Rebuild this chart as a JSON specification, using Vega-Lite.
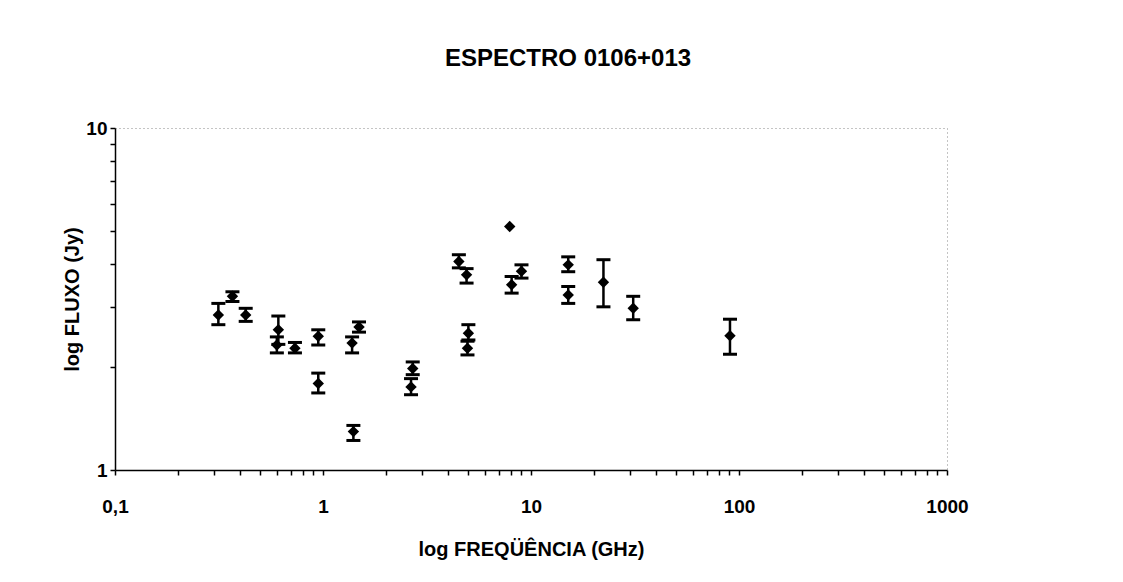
{
  "$schema": "https://vega.github.io/schema/vega-lite/v6.json",
  "width": 832,
  "height": 342,
  "autosize": {"type": "none"},
  "padding": {"left": 115, "top": 128, "right": 176, "bottom": 112},
  "background": "white",
  "title": {
    "text": "ESPECTRO 0106+013",
    "anchor": "middle",
    "frame": "group",
    "dx": 37,
    "offset": 48,
    "fontSize": 24,
    "font": "Liberation Sans, Arial, sans-serif",
    "fontWeight": "bold",
    "color": "black"
  },
  "data": {
    "values": [
      {"freq": 0.314, "flux": 2.84, "lo": 2.66, "hi": 3.07},
      {"freq": 0.367, "flux": 3.22, "lo": 3.11, "hi": 3.32},
      {"freq": 0.425, "flux": 2.84, "lo": 2.72, "hi": 2.97},
      {"freq": 0.61, "flux": 2.57, "lo": 2.33, "hi": 2.82},
      {"freq": 0.60, "flux": 2.32, "lo": 2.20, "hi": 2.45},
      {"freq": 0.733, "flux": 2.27, "lo": 2.20, "hi": 2.36},
      {"freq": 0.949, "flux": 2.46, "lo": 2.32, "hi": 2.57},
      {"freq": 0.949, "flux": 1.79, "lo": 1.68, "hi": 1.92},
      {"freq": 1.49, "flux": 2.62, "lo": 2.53, "hi": 2.71},
      {"freq": 1.38, "flux": 2.35, "lo": 2.20, "hi": 2.45},
      {"freq": 1.40, "flux": 1.295, "lo": 1.22, "hi": 1.35},
      {"freq": 2.7, "flux": 1.98, "lo": 1.90, "hi": 2.07},
      {"freq": 2.65, "flux": 1.75, "lo": 1.66, "hi": 1.85},
      {"freq": 4.5, "flux": 4.07, "lo": 3.90, "hi": 4.26},
      {"freq": 4.9, "flux": 3.72, "lo": 3.52, "hi": 3.88},
      {"freq": 5.0, "flux": 2.51, "lo": 2.40, "hi": 2.66},
      {"freq": 4.95, "flux": 2.27, "lo": 2.17, "hi": 2.38},
      {"freq": 7.9, "flux": 5.15, "lo": null, "hi": null},
      {"freq": 8.07, "flux": 3.48, "lo": 3.29, "hi": 3.68},
      {"freq": 9.0, "flux": 3.81, "lo": 3.64, "hi": 3.98},
      {"freq": 15.1, "flux": 3.98, "lo": 3.80, "hi": 4.20},
      {"freq": 15.1, "flux": 3.25, "lo": 3.07, "hi": 3.44},
      {"freq": 22.3, "flux": 3.54, "lo": 3.0, "hi": 4.12},
      {"freq": 31.0, "flux": 2.97, "lo": 2.75, "hi": 3.22},
      {"freq": 90.5, "flux": 2.47, "lo": 2.18, "hi": 2.76}
    ]
  },
  "config": {
    "view": {"stroke": "#888", "strokeDash": [1, 3], "strokeWidth": 1},
    "axis": {
      "grid": false,
      "domainColor": "black",
      "domainWidth": 1.5,
      "tickColor": "black",
      "tickWidth": 1.5,
      "tickSize": 5,
      "labelFont": "Liberation Sans, Arial, sans-serif",
      "labelFontSize": 19,
      "labelFontWeight": "bold",
      "labelColor": "black",
      "titleFont": "Liberation Sans, Arial, sans-serif",
      "titleFontSize": 20,
      "titleFontWeight": "bold",
      "titleColor": "black",
      "labelOverlap": false,
      "labelFlush": false
    },
    "axisX": {"labelPadding": 22, "titlePadding": 23, "labelAngle": 0},
    "axisY": {"labelPadding": 3, "titlePadding": 3}
  },
  "encoding": {
    "x": {
      "field": "freq",
      "type": "quantitative",
      "scale": {"type": "log", "domain": [0.1, 1000], "nice": false},
      "axis": {
        "title": "log FREQÜÊNCIA (GHz)",
        "values": [0.1, 0.2, 0.3, 0.4, 0.5, 0.6, 0.7, 0.8, 0.9, 1, 2, 3, 4, 5, 6, 7, 8, 9, 10, 20, 30, 40, 50, 60, 70, 80, 90, 100, 200, 300, 400, 500, 600, 700, 800, 900, 1000],
        "labelExpr": "datum.value == 0.1 ? '0,1' : (datum.value == 1 ? '1' : (datum.value == 10 ? '10' : (datum.value == 100 ? '100' : (datum.value == 1000 ? '1000' : ''))))"
      }
    }
  },
  "layer": [
    {
      "transform": [{"filter": "datum.lo != null"}],
      "mark": {"type": "rule", "color": "black", "strokeWidth": 2.5},
      "encoding": {
        "y": {
          "field": "lo",
          "type": "quantitative",
          "scale": {"type": "log", "domain": [1, 10], "nice": false},
          "axis": {
            "title": "log FLUXO (Jy)",
            "values": [1, 2, 3, 4, 5, 6, 7, 8, 9, 10],
            "labelExpr": "datum.value == 1 ? '1' : (datum.value == 10 ? '10' : '')"
          }
        },
        "y2": {"field": "hi"}
      }
    },
    {
      "transform": [{"filter": "datum.lo != null"}],
      "mark": {"type": "tick", "orient": "horizontal", "color": "black", "size": 14, "thickness": 3, "opacity": 1},
      "encoding": {
        "y": {
          "field": "lo",
          "type": "quantitative",
          "scale": {"type": "log", "domain": [1, 10], "nice": false},
          "axis": {
            "title": "log FLUXO (Jy)",
            "values": [1, 2, 3, 4, 5, 6, 7, 8, 9, 10],
            "labelExpr": "datum.value == 1 ? '1' : (datum.value == 10 ? '10' : '')"
          }
        }
      }
    },
    {
      "transform": [{"filter": "datum.hi != null"}],
      "mark": {"type": "tick", "orient": "horizontal", "color": "black", "size": 14, "thickness": 3, "opacity": 1},
      "encoding": {
        "y": {
          "field": "hi",
          "type": "quantitative",
          "scale": {"type": "log", "domain": [1, 10], "nice": false},
          "axis": {
            "title": "log FLUXO (Jy)",
            "values": [1, 2, 3, 4, 5, 6, 7, 8, 9, 10],
            "labelExpr": "datum.value == 1 ? '1' : (datum.value == 10 ? '10' : '')"
          }
        }
      }
    },
    {
      "mark": {"type": "point", "shape": "diamond", "filled": true, "color": "black", "size": 130, "opacity": 1},
      "encoding": {
        "y": {
          "field": "flux",
          "type": "quantitative",
          "scale": {"type": "log", "domain": [1, 10], "nice": false},
          "axis": {
            "title": "log FLUXO (Jy)",
            "values": [1, 2, 3, 4, 5, 6, 7, 8, 9, 10],
            "labelExpr": "datum.value == 1 ? '1' : (datum.value == 10 ? '10' : '')"
          }
        }
      }
    }
  ]
}
